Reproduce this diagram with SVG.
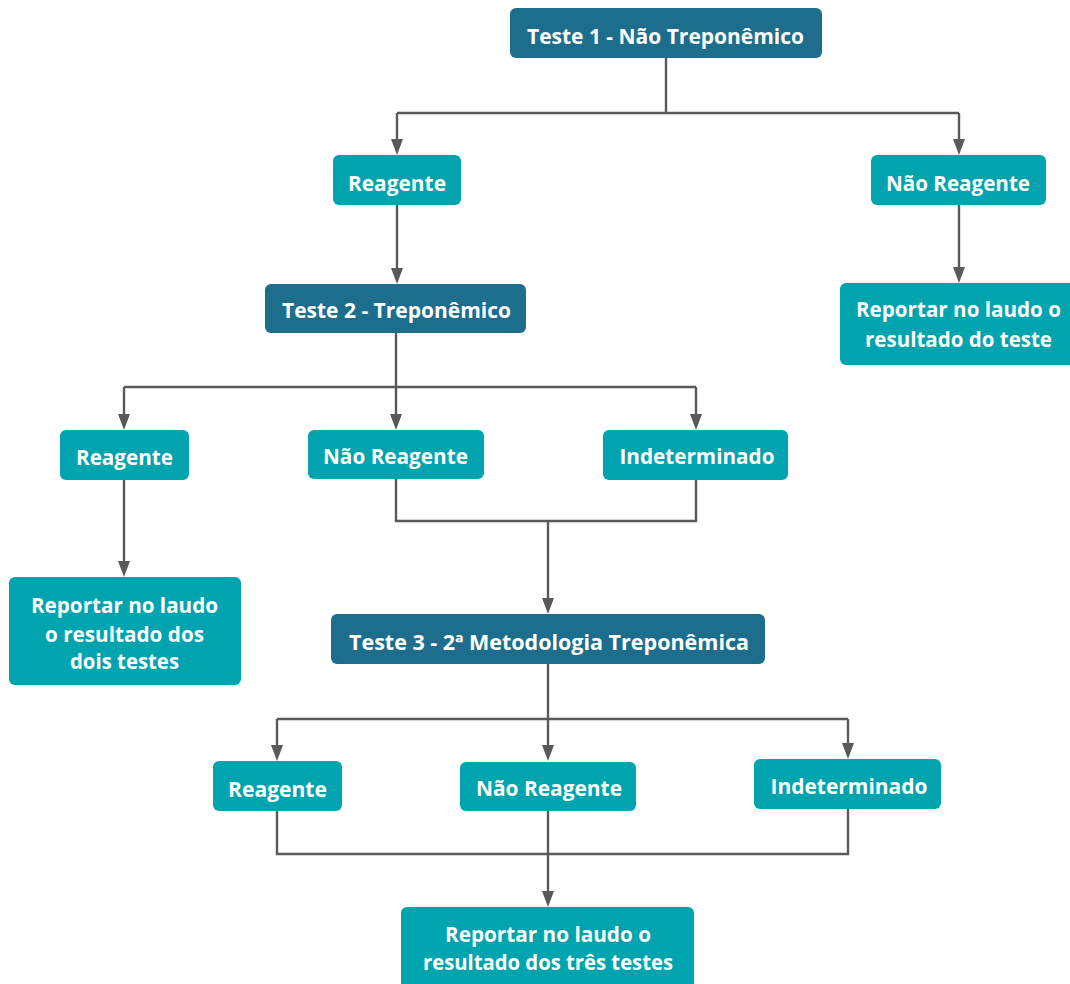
<svg xmlns="http://www.w3.org/2000/svg" width="1070" height="984" viewBox="0 0 1070 984">
<style>
.dark{fill:#1d6e8c}
.teal{fill:#00a4ae}
.t{font-family:"Open Sans","Noto Sans",sans-serif;font-weight:700;font-size:21.5px;fill:#ffffff;text-anchor:middle}
.c{fill:none;stroke:#58595b;stroke-width:2.4}
</style>
<defs>
<marker id="ah" viewBox="0 0 16 12" markerWidth="16" markerHeight="12" refX="6" refY="6" orient="auto" markerUnits="userSpaceOnUse">
<path d="M0,0 L16,6 L0,12 z" fill="#58595b"/>
</marker>
</defs>
<rect width="1070" height="984" fill="#ffffff"/>
<g id="connectors">
<path class="c" d="M666,58 V113 M397,113 H959"/>
<path class="c" d="M397,113 V145" marker-end="url(#ah)"/>
<path class="c" d="M959,113 V145" marker-end="url(#ah)"/>
<path class="c" d="M397,205 V274" marker-end="url(#ah)"/>
<path class="c" d="M959,205 V273" marker-end="url(#ah)"/>
<path class="c" d="M124,387 H696"/>
<path class="c" d="M396,333 V420" marker-end="url(#ah)"/>
<path class="c" d="M124,387 V420" marker-end="url(#ah)"/>
<path class="c" d="M696,387 V420" marker-end="url(#ah)"/>
<path class="c" d="M124,480 V567" marker-end="url(#ah)"/>
<path class="c" d="M396,479 V521 H696 V480"/>
<path class="c" d="M548,521 V604" marker-end="url(#ah)"/>
<path class="c" d="M548,664 V751" marker-end="url(#ah)"/>
<path class="c" d="M277,719 H848"/>
<path class="c" d="M277,719 V751" marker-end="url(#ah)"/>
<path class="c" d="M848,719 V749" marker-end="url(#ah)"/>
<path class="c" d="M277,811 V854 H848 V809"/>
<path class="c" d="M548,811 V897" marker-end="url(#ah)"/>
</g>
<g id="teste1">
<rect class="dark" x="510" y="8" width="312" height="50" rx="6"/>
<text class="t" x="665.5" y="44" textLength="277" lengthAdjust="spacingAndGlyphs">Teste 1 - Não Treponêmico</text>
</g>
<g id="reagente1">
<rect class="teal" x="333" y="155" width="128" height="50" rx="6"/>
<text class="t" x="397" y="191" textLength="98" lengthAdjust="spacingAndGlyphs">Reagente</text>
</g>
<g id="naoreagente1">
<rect class="teal" x="871" y="155" width="175" height="50" rx="6"/>
<text class="t" x="958" y="191" textLength="144" lengthAdjust="spacingAndGlyphs">Não Reagente</text>
</g>
<g id="reportar1">
<rect class="teal" x="840" y="283" width="240" height="82" rx="6"/>
<text class="t" x="958.5" y="317" textLength="205" lengthAdjust="spacingAndGlyphs">Reportar no laudo o</text>
<text class="t" x="958.5" y="347" textLength="187" lengthAdjust="spacingAndGlyphs">resultado do teste</text>
</g>
<g id="teste2">
<rect class="dark" x="265" y="284" width="261" height="49" rx="6"/>
<text class="t" x="396.5" y="318" textLength="229" lengthAdjust="spacingAndGlyphs">Teste 2 - Treponêmico</text>
</g>
<g id="reagente2">
<rect class="teal" x="60" y="430" width="129" height="50" rx="6"/>
<text class="t" x="124.5" y="465" textLength="97" lengthAdjust="spacingAndGlyphs">Reagente</text>
</g>
<g id="naoreagente2">
<rect class="teal" x="308" y="430" width="176" height="49" rx="6"/>
<text class="t" x="395.5" y="464" textLength="145" lengthAdjust="spacingAndGlyphs">Não Reagente</text>
</g>
<g id="indeterminado2">
<rect class="teal" x="603" y="430" width="185" height="50" rx="6"/>
<text class="t" x="697" y="464" textLength="155" lengthAdjust="spacingAndGlyphs">Indeterminado</text>
</g>
<g id="reportar2">
<rect class="teal" x="9" y="577" width="232" height="108" rx="6"/>
<text class="t" x="124.5" y="613" textLength="187" lengthAdjust="spacingAndGlyphs">Reportar no laudo</text>
<text class="t" x="124.5" y="642" textLength="159" lengthAdjust="spacingAndGlyphs">o resultado dos</text>
<text class="t" x="124.5" y="669" textLength="109" lengthAdjust="spacingAndGlyphs">dois testes</text>
</g>
<g id="teste3">
<rect class="dark" x="331" y="614" width="434" height="50" rx="6"/>
<text class="t" x="549" y="650" textLength="400" lengthAdjust="spacingAndGlyphs">Teste 3 - 2ª Metodologia Treponêmica</text>
</g>
<g id="reagente3">
<rect class="teal" x="213" y="761" width="129" height="50" rx="6"/>
<text class="t" x="277.5" y="797" textLength="99" lengthAdjust="spacingAndGlyphs">Reagente</text>
</g>
<g id="naoreagente3">
<rect class="teal" x="460" y="762" width="176" height="49" rx="6"/>
<text class="t" x="549" y="796" textLength="146" lengthAdjust="spacingAndGlyphs">Não Reagente</text>
</g>
<g id="indeterminado3">
<rect class="teal" x="754" y="759" width="187" height="50" rx="6"/>
<text class="t" x="849" y="794" textLength="157" lengthAdjust="spacingAndGlyphs">Indeterminado</text>
</g>
<g id="reportar3">
<rect class="teal" x="401" y="907" width="293" height="90" rx="6"/>
<text class="t" x="548" y="942" textLength="206" lengthAdjust="spacingAndGlyphs">Reportar no laudo o</text>
<text class="t" x="548" y="970" textLength="250" lengthAdjust="spacingAndGlyphs">resultado dos três testes</text>
</g>
</svg>
